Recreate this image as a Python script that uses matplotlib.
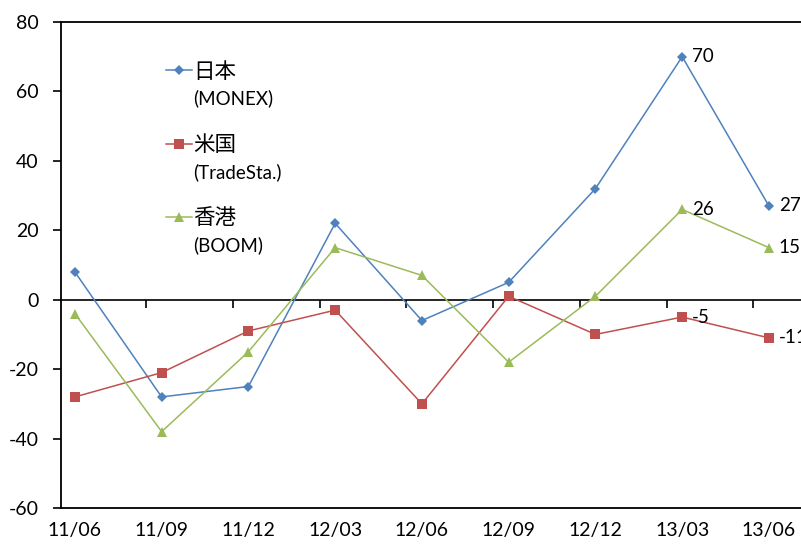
import matplotlib
matplotlib.use("Agg")
import matplotlib.pyplot as plt
from matplotlib.lines import Line2D

plt.rcParams['font.family'] = ['Lato', 'Noto Sans CJK JP', 'DejaVu Sans']
plt.rcParams['axes.unicode_minus'] = False

periods = ["11/06", "11/09", "11/12", "12/03", "12/06", "12/09", "12/12", "13/03", "13/06"]
japan = [8, -28, -25, 22, -6, 5, 32, 70, 27]
usa = [-28, -21, -9, -3, -30, 1, -10, -5, -11]
hongkong = [-4, -38, -15, 15, 7, -18, 1, 26, 15]

names = ["日本", "米国", "香港"]
brokers = ["(MONEX)", "(TradeSta.)", "(BOOM)"]
colors = ["#4F81BD", "#C0504D", "#9BBB59"]
markers = ["D", "s", "^"]
msizes = [5, 6.5, 7]

fig = plt.figure(figsize=(8.01, 5.46), dpi=100)
ax = fig.add_axes([61/801, 38/546, 760/801, 486/546])

x = list(range(len(periods)))
series = [japan, usa, hongkong]
handles = []
for vals, c, m, s in zip(series, colors, markers, msizes):
    line, = ax.plot(x, vals, color=c, marker=m, markersize=s,
                    linewidth=1.1, markeredgewidth=0)
    handles.append(line)

# value labels on the last two points
for vals in series:
    for i in (7, 8):
        ax.annotate(str(vals[i]), (x[i], vals[i]), xytext=(7, 0),
                    textcoords="offset points", va="center", ha="left",
                    fontsize=13.5, color="black")

ax.set_ylim(-60, 80)
ax.set_yticks(range(-60, 81, 20))
ax.set_xlim(-0.16, 8.6)
ax.set_xticks(x)
ax.set_xticklabels(periods)
ax.tick_params(axis="y", direction="out", length=6, width=1.2, pad=10,
               labelsize=14, colors="black")
ax.tick_params(axis="x", length=0, pad=10, labelsize=14, colors="black")
for side in ["left", "top", "bottom", "right"]:
    ax.spines[side].set_linewidth(1.3)

# zero line with category boundary ticks
sec = ax.secondary_xaxis(0, transform=ax.transData)
sec.set_xticks([i + 0.82 for i in range(8)])
sec.tick_params(direction="out", length=6, width=1.2, labelbottom=False)
sec.spines["bottom"].set_linewidth(1.2)

blank = Line2D([], [], color="none")
leg_handles, leg_labels = [], []
for h, n, b in zip(handles, names, brokers):
    leg_handles += [h, blank]
    leg_labels += [n, b + "\n"]
leg = ax.legend(leg_handles, leg_labels, loc="upper left",
                bbox_to_anchor=(166/801, 484/546), bbox_transform=fig.transFigure,
                frameon=False, borderpad=0, borderaxespad=0,
                handlelength=1.2, handletextpad=0.05, labelspacing=0.36,
                fontsize=15.5)
for i, t in enumerate(leg.get_texts()):
    if i % 2:
        t.set_fontsize(13.5)

fig.savefig("out.png", dpi=100)
